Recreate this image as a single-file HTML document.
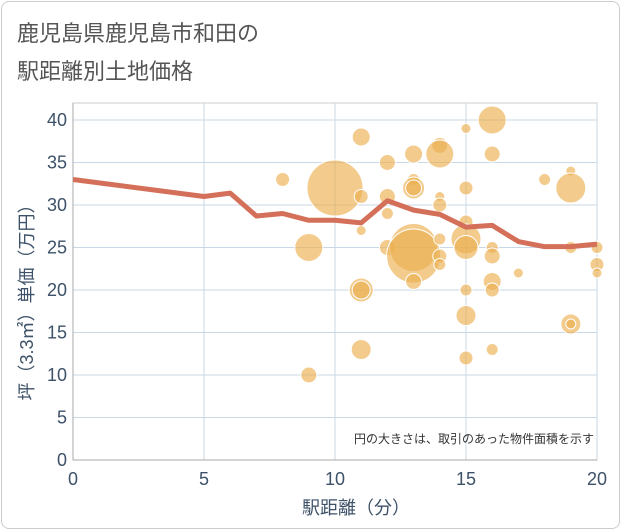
<!DOCTYPE html>
<html><head><meta charset="utf-8"><style>
body{margin:0;background:#fff;font-family:"Liberation Sans","Noto Sans CJK JP",sans-serif;}
#card{position:absolute;left:1px;top:1px;width:617px;height:526px;border:1px solid #ccc;border-radius:8px;background:#fff;}
.t{position:absolute;left:17px;font-size:22px;color:#555;}
</style></head><body>
<div id="card"></div>
<div class="t" style="top:16px">鹿児島県鹿児島市和田の</div>
<div class="t" style="top:54px">駅距離別土地価格</div>
<svg id="c" width="621" height="530" style="position:absolute;left:0;top:0"></svg>
<script>
const xTicks=[0,5,10,15,20];
const yTicks=[0,5,10,15,20,25,30,35,40];
const bubX=[8,9,9,10,11,11,11,11,11,11,12,12,12,12,13,13,13,13,13,13,13,14,14,14,14,14,14,14,15,15,15,15,15,15,15,15,16,16,16,16,16,16,16,17,18,19,19,19,19,19,20,20,20];
const bubY=[33,25,10,32,38,31,27,20,20,13,35,31,29,25,36,33,32,32,25,24,21,37,36,31,30,26,24,23,39,32,28,26,25,20,17,12,40,36,25,24,21,20,13,22,33,34,32,25,16,16,25,23,22];
const bubR=[7,14,8,28,9,7,5,12,9,10,8,8,6,8,9,6,11,8,24,27,8,8,14,5,7,6,7,6,5,7,7,15,12,6,10,7,14,8,6,8,9,7,6,5,6,5,15,6,10,5,6,7,5];
const lineX=[0,5,6,7,8,9,10,11,12,13,14,15,16,17,18,19,20];
const lineY=[33,31,31.4,28.7,29,28.2,28.2,27.9,30.5,29.4,28.9,27.4,27.6,25.7,25.1,25.1,25.4];
const L=73,R=597,T=103,B=460;
const sx=v=>L+(v-0)/20*(R-L);
const sy=v=>B-v/40*(B-120);
const svg=document.getElementById('c');
const NS='http://www.w3.org/2000/svg';
function mk(t,a){const e=document.createElementNS(NS,t);for(const k in a)e.setAttribute(k,a[k]);svg.appendChild(e);return e;}
let e;
e=mk('rect',{x:L,y:T,width:R-L,height:B-T,fill:'none',stroke:'#ccc','stroke-width':1});


yTicks.forEach(v=>{
 e=mk('line',{x1:L,x2:R,y1:sy(v),y2:sy(v),stroke:'#c9d8e6','stroke-width':1});
 
 
 e=mk('text',{x:L-6,y:sy(v)+6,'text-anchor':'end','font-size':18,fill:'#3d5168'});e.textContent=v;
 
 
});
xTicks.forEach(v=>{
 e=mk('line',{x1:sx(v),x2:sx(v),y1:T,y2:B,stroke:'#c9d8e6','stroke-width':1});
 
 
 e=mk('text',{x:sx(v),y:B+25,'text-anchor':'middle','font-size':18,fill:'#3d5168'});e.textContent=v;
 
 
});
e=mk('line',{x1:L,x2:L,y1:T,y2:B,stroke:'#aaa'});


e=mk('line',{x1:L,x2:R,y1:B,y2:B,stroke:'#aaa'});


bubX.forEach((x,i)=>{
 e=mk('circle',{cx:sx(x),cy:sy(bubY[i]),r:bubR[i],fill:'rgba(235,175,80,0.65)',stroke:'#fff','stroke-width':1});
 
 
});
e=mk('polyline',{points:lineX.map((x,i)=>sx(x)+','+sy(lineY[i])).join(' '),fill:'none',stroke:'#d4705a','stroke-width':5,'stroke-linejoin':'round'});


e=mk('text',{x:594,y:443,'text-anchor':'end','font-size':12,fill:'#333'});e.textContent='円の大きさは、取引のあった物件面積を示す';


e=mk('text',{x:356,y:514,'text-anchor':'middle','font-size':18,fill:'#3d5168'});e.textContent='駅距離（分）';


e=mk('text',{x:0,y:0,'text-anchor':'middle','font-size':18,fill:'#3d5168',transform:'translate(33,298) rotate(-90)'});e.textContent='坪（3.3㎡）単価（万円）';


</script>
</body></html>
